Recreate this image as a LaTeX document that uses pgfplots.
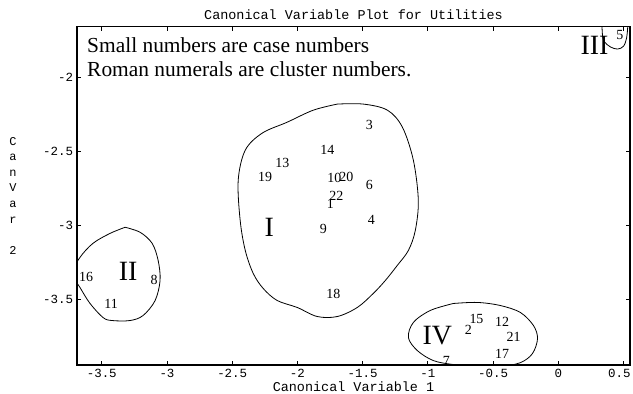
\documentclass[border=0pt]{standalone}
\usepackage{fontspec}
\setmainfont{Liberation Serif}
\setmonofont{Liberation Mono}
\usepackage{pgfplots}
\usepackage{pgfplotstable}
\pgfplotsset{compat=1.18}

% case numbers: canonical variable 1, canonical variable 2, case
\pgfplotstableread{
x y label
-1.449 -2.322 3
-1.771 -2.491 14
-2.116 -2.579 13
-2.247 -2.674 19
-1.717 -2.680 10
-1.625 -2.674 20
-1.449 -2.728 6
-1.702 -2.802 22
-1.748 -2.856 1
-1.433 -2.964 4
-1.802 -3.025 9
-1.725 -3.458 18
-3.620 -3.349 16
-3.099 -3.363 8
-3.429 -3.525 11
0.472 -1.714 5
-0.627 -3.628 15
-0.689 -3.701 2
-0.430 -3.651 12
-0.343 -3.753 21
-0.430 -3.865 17
-0.858 -3.910 7
}\cases

% cluster numbers
\pgfplotstableread{
x y label
-2.216 -3.009 I
-3.298 -3.307 II
0.278 -1.782 III
-0.927 -3.741 IV
}\clusters

\begin{document}
\begin{tikzpicture}
\path[use as bounding box] (-77bp,-29bp) rectangle (556bp,365bp);
\begin{axis}[at={(0,0)},anchor=south west,scale only axis,
	width=553bp,height=338.3bp,
	xmin=-3.69,xmax=0.55,ymin=-3.94,ymax=-1.658,
	xtick={-3.5,-3,-2.5,-2,-1.5,-1,-0.5,0,0.5},
	xticklabels={-3.5,-3,-2.5,-2,-1.5,-1,-0.5,0,\makebox[14bp][r]{0.5}},
	ytick={-3.5,-3,-2.5,-2},
	yticklabels={-3.5,-3,-2.5,-2},
	axis line style={line width=1.2bp},
	major tick style={line width=0.8bp,black},
	major tick length=4bp,
	tick align=inside,
	tick label style={font=\ttfamily\fontsize{12.5}{12.5}\selectfont},
	xticklabel style={anchor=center,inner sep=1bp,yshift=-8.5bp},
	yticklabel style={xshift=-0.5bp}]
% cluster outlines
\addplot[black,line width=0.8bp,smooth,tension=0.55,mark=none] coordinates {
(-1.694,-2.180) (-1.495,-2.180) (-1.310,-2.221) (-1.195,-2.336) (-1.111,-2.559)
(-1.073,-2.829) (-1.096,-3.032) (-1.149,-3.167) (-1.234,-3.268) (-1.326,-3.370)
(-1.418,-3.457) (-1.541,-3.552) (-1.694,-3.613) (-1.848,-3.613) (-2.001,-3.552)
(-2.155,-3.505) (-2.262,-3.424) (-2.339,-3.322) (-2.400,-3.167) (-2.439,-2.964)
(-2.454,-2.694) (-2.400,-2.491) (-2.270,-2.376) (-2.078,-2.302) (-1.878,-2.221)
(-1.694,-2.180)};
\addplot[black,line width=0.8bp,smooth,tension=0.55,mark=none] coordinates {
(-3.321,-3.011) (-3.436,-3.052) (-3.567,-3.119) (-3.667,-3.214) (-3.728,-3.322)
(-3.667,-3.417) (-3.590,-3.525) (-3.490,-3.620) (-3.421,-3.640) (-3.283,-3.640)
(-3.183,-3.606) (-3.091,-3.505) (-3.053,-3.369) (-3.068,-3.234) (-3.114,-3.119)
(-3.206,-3.045) (-3.321,-3.011)};
\addplot[black,line width=0.8bp,smooth,tension=0.55,mark=none] coordinates {
(-0.804,-3.525) (-0.620,-3.518) (-0.443,-3.539) (-0.290,-3.586) (-0.190,-3.674)
(-0.159,-3.762) (-0.198,-3.863) (-0.290,-3.924) (-0.443,-3.951) (-0.597,-3.951)
(-0.804,-3.937) (-0.958,-3.910) (-1.080,-3.843) (-1.149,-3.755) (-1.111,-3.653)
(-0.981,-3.572) (-0.804,-3.525)};
\addplot[black,line width=0.8bp,smooth,tension=0.55,mark=none] coordinates {
(0.332,-1.579) (0.339,-1.714) (0.355,-1.761) (0.401,-1.795) (0.455,-1.809)
(0.501,-1.789) (0.524,-1.734) (0.532,-1.667) (0.539,-1.579) (0.440,-1.511)
(0.332,-1.579)};
% case and cluster numbers
\addplot[draw=none,mark=none,nodes near coords,point meta=explicit symbolic,
	every node near coord/.style={anchor=center,inner sep=0pt,black,
	font=\fontsize{14}{14}\selectfont}] table[meta=label] {\cases};
\addplot[draw=none,mark=none,nodes near coords,point meta=explicit symbolic,
	every node near coord/.style={anchor=center,inner sep=0pt,black,
	font=\fontsize{28}{28}\selectfont}] table[meta=label] {\clusters};
\node[anchor=base west,inner sep=0pt,font=\fontsize{21.5}{21.5}\selectfont]
	at (axis cs:-3.613,-1.829) {Small numbers are case numbers};
\node[anchor=base west,inner sep=0pt,font=\fontsize{21.5}{21.5}\selectfont]
	at (axis cs:-3.613,-1.991) {Roman numerals are cluster numbers.};
\end{axis}
\node[font=\ttfamily\fontsize{13.5}{13.5}\selectfont]
	at ([yshift=11.7bp]current axis.north) {Canonical Variable Plot for Utilities};
\node[font=\ttfamily\fontsize{13.5}{13.5}\selectfont]
	at ([yshift=-22bp]current axis.south) {Canonical Variable 1};
\node[font=\ttfamily\fontsize{12}{15.7}\selectfont,align=center,inner sep=0pt]
	at ([xshift=-64bp]current axis.west) {C\\a\\n\\V\\a\\r\\[15.7bp]2};
\end{tikzpicture}
\end{document}
